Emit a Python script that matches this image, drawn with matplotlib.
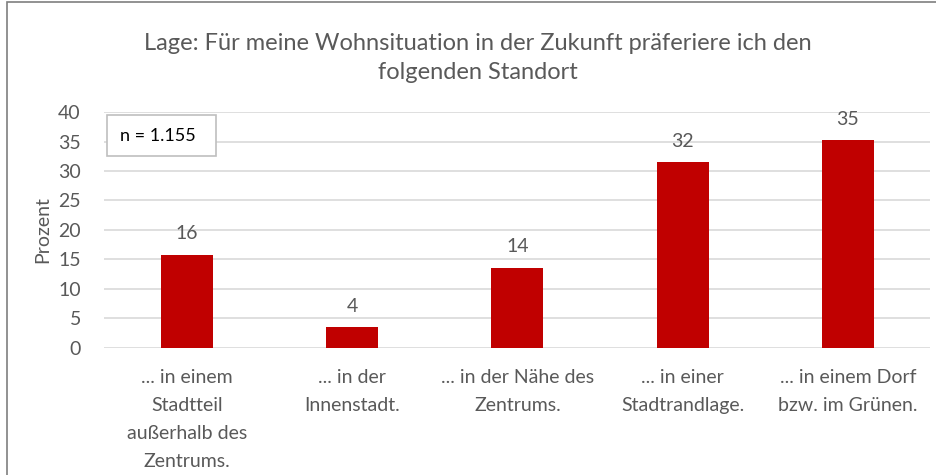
import matplotlib
matplotlib.use("Agg")
import matplotlib.pyplot as plt
from matplotlib.patches import Rectangle

# values
categories = [
    "... in einem\nStadtteil\naußerhalb des\nZentrums.",
    "... in der\nInnenstadt.",
    "... in der Nähe des\nZentrums.",
    "... in einer\nStadtrandlage.",
    "... in einem Dorf\nbzw. im Grünen.",
]
values = [15.8, 3.5, 13.6, 31.5, 35.2]
value_labels = ["16", "4", "14", "32", "35"]
yticks = [0, 5, 10, 15, 20, 25, 30, 35, 40]

plt.rcParams["font.family"] = ["Lato", "DejaVu Sans"]
grey = "#595959"

fig = plt.figure(figsize=(9.36, 4.75), dpi=100)
ax = fig.add_axes([0.1116, 0.2674, 0.8825, 0.4968])

x = range(len(categories))
bars = ax.bar(x, values, width=0.315, color="#c00000", zorder=3)
for b, lab in zip(bars, value_labels):
    ax.annotate(lab, (b.get_x() + b.get_width() / 2, b.get_height()),
                xytext=(0, 9), textcoords="offset points",
                ha="center", va="bottom", fontsize=14, color=grey)

ax.set_xlim(-0.5, len(categories) - 0.5)
ax.set_ylim(0, 40)
ax.set_yticks(yticks)
ax.set_xticks(list(x))
ax.set_xticklabels(categories, fontsize=14, color=grey, linespacing=1.8, va="top")
ax.tick_params(axis="both", length=0, labelsize=14, colors=grey)
ax.tick_params(axis="x", pad=15)
ax.tick_params(axis="y", pad=17)
ax.grid(axis="y", color="#d9d9d9", linewidth=1.2, zorder=0)
for s in ax.spines.values():
    s.set_visible(False)
ax.set_ylabel("Prozent", fontsize=14, color=grey, labelpad=5)

fig.text(0.511, 0.878, "Lage: Für meine Wohnsituation in der Zukunft präferiere ich den\nfolgenden Standort",
         ha="center", va="center", fontsize=17, color=grey, linespacing=1.42)

# n box
fig.patches.append(Rectangle((107 / 936, 1 - 156 / 475), 109 / 936, 41 / 475,
                             transform=fig.transFigure, fc="white", ec="#bfbfbf", lw=1.2, zorder=5))
fig.text(120 / 936, 1 - 136 / 475, "n = 1.155", ha="left", va="center",
         fontsize=13, color="black", zorder=6)

# outer chart frame (clipped at right and bottom)
fig.patches.append(Rectangle((7 / 936, -0.05), 1.1, 1.046, transform=fig.transFigure,
                             fill=False, ec="#7f7f7f", lw=1.2))

fig.savefig("out.png", dpi=100)
